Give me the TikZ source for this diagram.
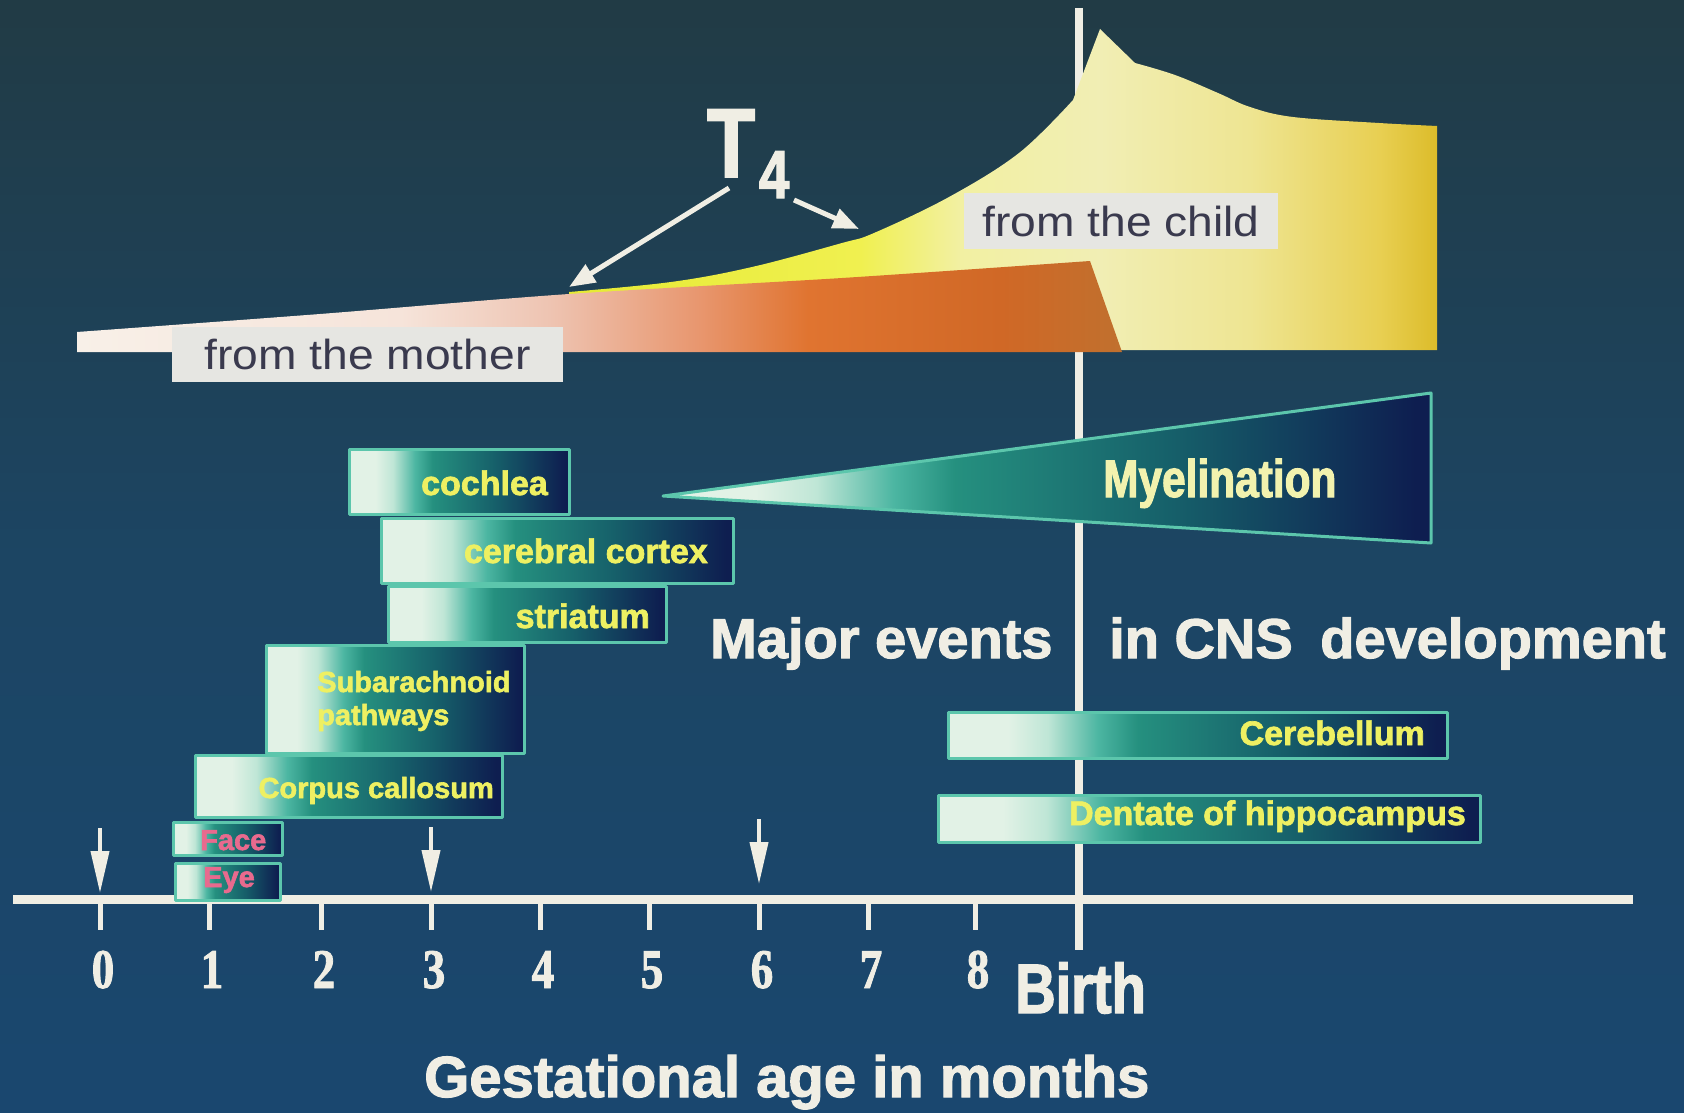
\documentclass[tikz,border=0pt]{standalone}
\usepackage{fontspec}
\setmainfont{Liberation Sans}
\newfontfamily\heavysans[BoldFeatures={FakeBold=2}]{Liberation Sans}
\newfontfamily\narrowsans[FakeStretch=0.8, BoldFeatures={FakeBold=2}]{Liberation Sans}
\newfontfamily\widesans[FakeStretch=1.1]{Liberation Sans}
\newfontfamily\numserif[FakeStretch=0.8, BoldFeatures={FakeBold=1.5}]{Liberation Serif}
\usetikzlibrary{arrows.meta}
\definecolor{bgtop}{HTML}{213B45}
\definecolor{bgmid}{HTML}{1C4563}
\definecolor{bgbot}{HTML}{1A476F}
\definecolor{chalk}{HTML}{F0EEE4}
\definecolor{mint}{HTML}{E2F2E6}
\definecolor{mintlt}{HTML}{BFE6D6}
\definecolor{tealA}{HTML}{4CB6A2}
\definecolor{tealB}{HTML}{25907F}
\definecolor{tealC}{HTML}{16606A}
\definecolor{navy}{HTML}{0E1E50}
\definecolor{edge}{HTML}{5CC6AC}
\definecolor{lemon}{HTML}{EEF062}
\definecolor{pale}{HTML}{F2F2AE}
\definecolor{rose}{HTML}{E86A8E}
\definecolor{cardgray}{HTML}{E6E6E2}
\definecolor{ink}{HTML}{3A3A4E}
\definecolor{mumA}{HTML}{F8F0E8}
\definecolor{mumB}{HTML}{F6E4DA}
\definecolor{mumC}{HTML}{EEC4B2}
\definecolor{mumD}{HTML}{E8966E}
\definecolor{mumE}{HTML}{E07430}
\definecolor{mumF}{HTML}{D06826}
\definecolor{mumG}{HTML}{C0702E}
\definecolor{kidA}{HTML}{E6EA34}
\definecolor{kidB}{HTML}{F0F050}
\definecolor{kidC}{HTML}{F2F0A2}
\definecolor{kidD}{HTML}{F1EEB4}
\definecolor{kidE}{HTML}{EEE592}
\definecolor{kidF}{HTML}{E8CF52}
\definecolor{kidG}{HTML}{DCBC2A}
\pgfdeclarehorizontalshading{barshade}{100bp}{color(0bp)=(mint); color(25bp)=(mint); color(31bp)=(mint); color(35bp)=(mintlt); color(40bp)=(tealA); color(44bp)=(tealB); color(58bp)=(tealC); color(74bp)=(navy); color(100bp)=(navy)}
\pgfdeclarehorizontalshading{mumshade}{100bp}{color(0bp)=(mumA); color(25bp)=(mumA); color(40.5bp)=(mumB); color(47.6bp)=(mumC); color(54.8bp)=(mumD); color(60bp)=(mumE); color(69.2bp)=(mumF); color(75bp)=(mumG); color(100bp)=(mumG)}
\pgfdeclarehorizontalshading{kidshade}{100bp}{color(0bp)=(kidA); color(25bp)=(kidA); color(41.8bp)=(kidB); color(47.5bp)=(kidC); color(55.6bp)=(kidD); color(64.2bp)=(kidE); color(71.7bp)=(kidF); color(75bp)=(kidG); color(100bp)=(kidG)}
\tikzset{
  barbox/.style={shading=barshade, draw=edge, line width=3pt, line join=round},
  barlab/.style={text=lemon, font=\heavysans\bfseries\fontsize{34}{36}\selectfont, inner sep=0pt},
  smalllab/.style={barlab, font=\heavysans\bfseries\fontsize{29}{33}\selectfont},
  pinklab/.style={smalllab, text=rose},
  labcard/.style={fill=cardgray, text=ink, font=\widesans\fontsize{42}{44}\selectfont, inner sep=0pt},
  axisline/.style={draw=chalk, line width=9pt},
  birthline/.style={draw=chalk, line width=8pt},
  tickline/.style={draw=chalk, line width=5pt},
  numlab/.style={text=chalk, font=\numserif\bfseries\fontsize{56}{58}\selectfont, inner sep=0pt, anchor=base},
  title/.style={text=chalk, font=\heavysans\bfseries\fontsize{56}{60}\selectfont, inner sep=0pt, anchor=base west},
  warrow/.style={draw=chalk, line width=5pt, -{Triangle[length=26pt, width=20pt]}},
  darrow/.style={draw=chalk, line width=4pt, -{Triangle[length=42pt, width=18pt]}},
}
\begin{document}
\begin{tikzpicture}[x=1pt, y=-1pt]
  \useasboundingbox (0,0) rectangle (1684,1113);
  \shade[top color=bgtop, bottom color=bgbot, middle color=bgmid] (0,0) rectangle (1684,1113);

  \coordinate (birthTop) at (1079,8);
  \coordinate (birthBot) at (1079,950);
  \coordinate (axL) at (13,899);
  \coordinate (axR) at (1633,899);
  \coordinate (mumtip) at (569,287);
  \coordinate (kidtip) at (859,229);

  \draw[birthline] (birthTop) -- (birthBot);
  \draw[axisline] (axL) -- (axR);
  \foreach \m/\x in {0/100,1/209,2/321,3/431,4/540,5/649,6/759,7/868,8/975}{
    \draw[tickline] (\x,899) -- (\x,930);
    \node[numlab] (n\m) at (\x+3,988) {\m};
  }
  \foreach \x/\y in {100/828,431/827,759/819}
    \draw[darrow] (\x,\y) -- (\x,\y+65);

  % T4 curves
  \shade[shading=kidshade] (569,350) -- (569,292) -- plot[smooth, tension=0.6] coordinates {(569,292) (671,282) (752,267) (842,243) (874,233) (949,197) (1019,153) (1073,100)}
    -- (1100,29) -- plot[smooth, tension=0.6] coordinates {(1135,63) (1175,75) (1218,93) (1250,107) (1293,117) (1379,123) (1437,126)} -- (1437,350) -- cycle;
  \shade[shading=mumshade] (77,352) -- plot[smooth, tension=0.5] coordinates {(77,332) (320,314) (569,294) (842,278) (1090,261)} -- (1122,352) -- cycle;

  \node[labcard, minimum width=391pt, minimum height=55pt] (mum) at (367.5,354.5) {from the mother};
  \node[labcard, minimum width=314pt, minimum height=56pt] (kid) at (1121,221) {from the child};
  \node[text=chalk, font=\narrowsans\bfseries\fontsize{98}{100}\selectfont, inner sep=0pt, anchor=base west] (t4) at (707,177) {T\kern4pt\raisebox{-21pt}{\fontsize{68}{70}\selectfont 4}};
  \draw[warrow] ([shift={(22,11)}]t4.base west) -- (mumtip);
  \draw[warrow] ([shift={(87,23)}]t4.base west) -- (kidtip);

  % event bars
  \shadedraw[barbox] (349,449) rectangle (569,514);
  \shadedraw[barbox] (381,518) rectangle (733,583);
  \shadedraw[barbox] (388,586) rectangle (666,642);
  \shadedraw[barbox] (266,645) rectangle (524,753);
  \shadedraw[barbox] (195,755) rectangle (502,817);
  \shadedraw[barbox] (173,822) rectangle (282,855);
  \shadedraw[barbox] (175,863) rectangle (280,900);
  \shadedraw[barbox] (948,712) rectangle (1447,758);
  \shadedraw[barbox] (938,795) rectangle (1480,842);
  \shadedraw[barbox] (663,496) -- (1431,393) -- (1431,543) -- cycle;

  \node[barlab, anchor=base east] (cochlea) at (548,495) {cochlea};
  \node[barlab, anchor=base east] (cortex) at (708,563) {cerebral cortex};
  \node[barlab, anchor=base east] (striatum) at (650,628) {striatum};
  \node[smalllab, anchor=base west] (subarach) at (317,692) {Subarachnoid};
  \node[smalllab, anchor=base west] (pathways) at (317,725) {pathways};
  \node[smalllab, anchor=base east] (corpus) at (494,798) {Corpus callosum};
  \node[pinklab, anchor=base west] (face) at (200,850) {Face};
  \node[pinklab, anchor=base west] (eye) at (203,887) {Eye};
  \node[barlab, anchor=base east] (cerebellum) at (1425,745) {Cerebellum};
  \node[barlab, anchor=base east] (dentate) at (1466,825) {Dentate of hippocampus};
  \node[barlab, text=pale, font=\narrowsans\bfseries\fontsize{53}{56}\selectfont, anchor=base west] (myelin) at (1103,497) {Myelination};

  \node[title] (major) at (710,658) {Major events};
  \node[title] (cns) at (1109,658) {in CNS\hspace{12pt} development};
  \node[title, font=\narrowsans\bfseries\fontsize{70}{72}\selectfont] (birth) at (1015,1013) {Birth};
  \node[title, font=\heavysans\bfseries\fontsize{58}{60}\selectfont] (gest) at (424,1097) {Gestational age in months};
\end{tikzpicture}
\end{document}
